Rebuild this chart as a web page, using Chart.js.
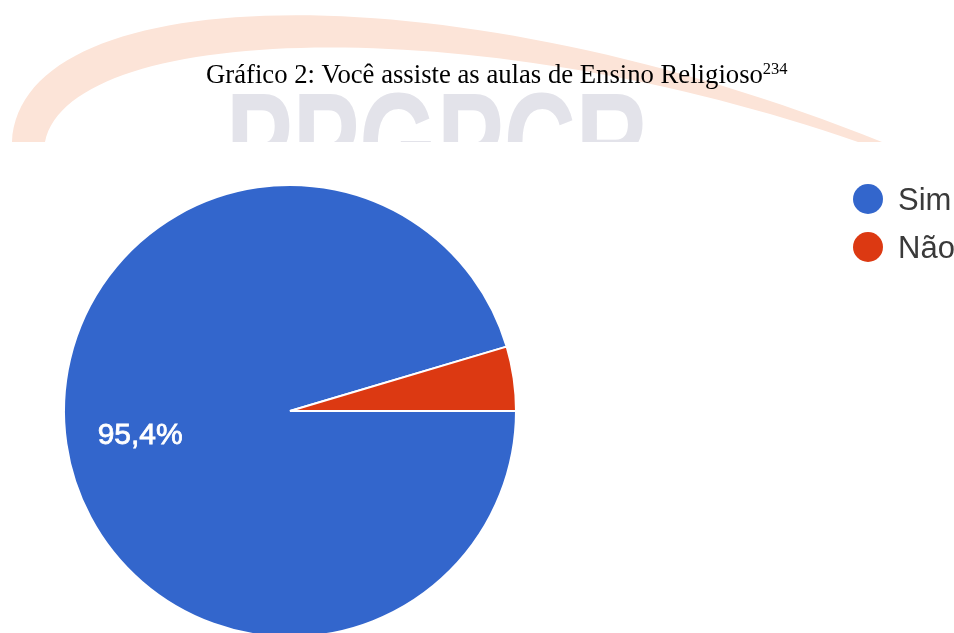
<!DOCTYPE html>
<html>
<head>
<meta charset="utf-8">
<script src="https://cdn.jsdelivr.net/npm/chart.js@4.4.1/dist/chart.umd.min.js"></script>
<style>
  html, body { margin: 0; padding: 0; background: #ffffff; overflow: hidden; }
  #wrap { width: 954px; height: 633px; overflow: hidden; position: relative; }
  canvas { display: block; }
</style>
</head>
<body>
<div id="wrap"><canvas id="c" width="954" height="660"></canvas></div>
<script>
// ---- data ----
const categories = ["Sim", "Não"];
const seriesValues = [95.4, 4.6];
const sliceColors = ["#3366CC", "#DC3912"];
const titleText = "Gráfico 2: Você assiste as aulas de Ensino Religioso";
const titleSup = "234";
const watermarkText = "PPGPCR";

// watermark behind everything
const watermarkPlugin = {
  id: 'watermark',
  beforeDraw(chart) {
    const ctx = chart.ctx;
    ctx.save();
    ctx.beginPath();
    ctx.rect(0, 0, chart.width, 142);
    ctx.clip();
    // orange swoosh
    ctx.beginPath();
    ctx.moveTo(12, 142);
    ctx.bezierCurveTo(20, -22, 450, -32, 882, 142);
    ctx.lineTo(858, 142);
    ctx.bezierCurveTo(480, 10, 70, 22, 45, 142);
    ctx.closePath();
    ctx.fillStyle = '#FCE4D8';
    ctx.fill();
    // gray letters
    const fs = 145;
    ctx.font = 'bold ' + fs + 'px "Liberation Sans", Arial, sans-serif';
    ctx.fillStyle = '#E3E3EA';
    ctx.textBaseline = 'alphabetic';
    const w = ctx.measureText(watermarkText).width;
    const targetW = 648 - 226;
    ctx.translate(226, 90 + 0.716 * fs);
    ctx.scale(targetW / w, 1);
    ctx.fillText(watermarkText, 0, 0);
    ctx.restore();
  }
};

const titlePlugin = {
  id: 'customTitle',
  afterDraw(chart) {
    const ctx = chart.ctx;
    ctx.save();
    ctx.fillStyle = '#000000';
    ctx.textBaseline = 'alphabetic';
    ctx.textAlign = 'left';
    ctx.font = '26.7px "Liberation Serif", "Times New Roman", serif';
    const x0 = 206, base = 83;
    ctx.fillText(titleText, x0, base);
    const w = ctx.measureText(titleText).width;
    ctx.font = '16.5px "Liberation Serif", "Times New Roman", serif';
    ctx.fillText(titleSup, x0 + w, base - 9);
    ctx.restore();
  }
};

const sliceLabelPlugin = {
  id: 'sliceLabels',
  afterDatasetsDraw(chart) {
    const ctx = chart.ctx;
    const meta = chart.getDatasetMeta(0);
    const data = chart.data.datasets[0].data;
    const total = data.reduce((a, b) => a + b, 0);
    ctx.save();
    ctx.font = '30px "Liberation Sans", Arial, sans-serif';
    ctx.fillStyle = '#ffffff';
    ctx.textAlign = 'center';
    ctx.textBaseline = 'middle';
    meta.data.forEach((arc, i) => {
      const pct = data[i] / total * 100;
      if (pct < 10) return;
      const p = arc.getProps(['x', 'y', 'startAngle', 'endAngle', 'outerRadius'], true);
      const mid = (p.startAngle + p.endAngle) / 2;
      const r = p.outerRadius * 0.67;
      const label = pct.toFixed(1).replace('.', ',') + '%';
      // stroke slightly for the blurred, heavier look of the original
      ctx.lineWidth = 0.8;
      ctx.strokeStyle = '#ffffff';
      const lx = p.x + Math.cos(mid) * r, ly = p.y + Math.sin(mid) * r + 3;
      ctx.fillText(label, lx, ly);
      ctx.strokeText(label, lx, ly);
    });
    ctx.restore();
  }
};

const legendPlugin = {
  id: 'customLegend',
  afterDraw(chart) {
    const ctx = chart.ctx;
    const labels = chart.data.labels;
    const colors = chart.data.datasets[0].backgroundColor;
    ctx.save();
    ctx.font = '31px "Liberation Sans", Arial, sans-serif';
    ctx.textBaseline = 'alphabetic';
    ctx.textAlign = 'left';
    labels.forEach((lab, i) => {
      const cy = 199 + i * 48;
      ctx.beginPath();
      ctx.arc(868, cy, 15, 0, Math.PI * 2);
      ctx.fillStyle = colors[i];
      ctx.fill();
      ctx.fillStyle = '#3a3a3a';
      ctx.fillText(lab, 898, cy + 11);
    });
    ctx.restore();
  }
};

new Chart(document.getElementById('c'), {
  type: 'pie',
  data: {
    labels: categories,
    datasets: [{
      data: seriesValues,
      backgroundColor: sliceColors,
      borderColor: '#ffffff',
      borderWidth: 2
    }]
  },
  options: {
    responsive: false,
    animation: false,
    events: [],
    rotation: 90,
    layout: { padding: { left: 63, right: 437, top: 184, bottom: 22 } },
    plugins: {
      legend: { display: false },
      title: { display: false },
      tooltip: { enabled: false }
    }
  },
  plugins: [watermarkPlugin, sliceLabelPlugin, titlePlugin, legendPlugin]
});
</script>
</body>
</html>
